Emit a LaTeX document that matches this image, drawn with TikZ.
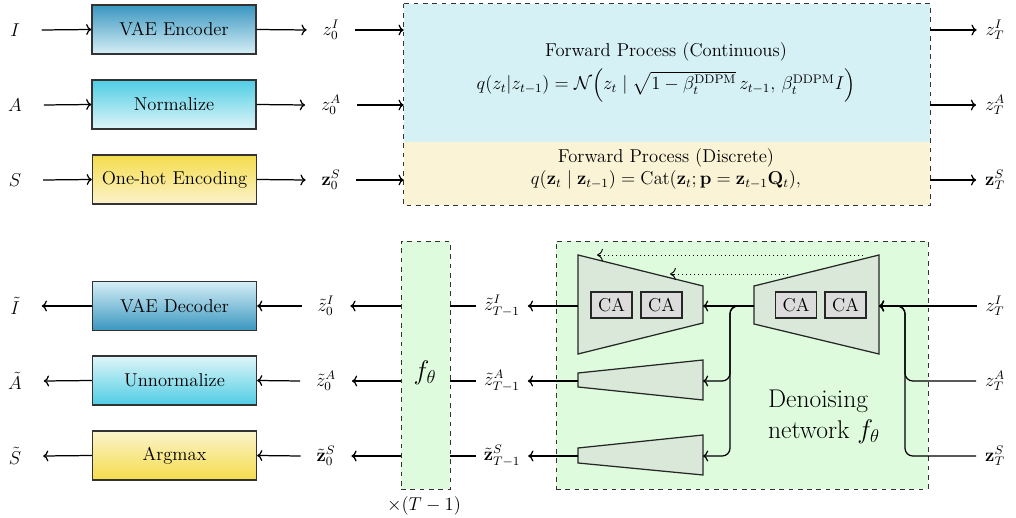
\documentclass[tikz,border=0pt]{standalone}
\usepackage{amsmath,amssymb}
\usetikzlibrary{arrows.meta,calc}
\definecolor{encTop}{HTML}{3A96C0}
\definecolor{encBot}{HTML}{D6EFF6}
\definecolor{normTop}{HTML}{4FCDE4}
\definecolor{normBot}{HTML}{DFF5F9}
\definecolor{oneTop}{HTML}{F5DC4C}
\definecolor{oneBot}{HTML}{FBF3CC}
\definecolor{fwdBlue}{HTML}{D5F1F6}
\definecolor{fwdYel}{HTML}{FBF3D6}
\definecolor{netGreen}{HTML}{DEFCDD}
\definecolor{trapFill}{HTML}{D9E8D9}
\definecolor{caFill}{HTML}{DCDCDC}
\definecolor{edge}{HTML}{333333}
\tikzset{
  procbox/.style={draw=edge, line width=0.8pt, minimum width=164*0.645pt, minimum height=49*0.645pt, inner sep=3pt, font=\large},
  lbl/.style={inner sep=0pt, outer xsep=#1*0.645pt, font=\large},
  conn/.style={line width=0.8pt, ->},
  plain/.style={line width=0.8pt},
  dbox/.style={draw=black!80, dashed, line width=0.6pt},
  trap/.style={draw=black!85, fill=trapFill, line width=0.8pt},
  cabox/.style={draw=black!85, fill=caFill, line width=0.8pt, minimum width=41*0.645pt, minimum height=26*0.645pt, inner sep=0pt, font=\large},
  skip/.style={dotted, line width=0.6pt},
  skiptip/.style={line width=0.6pt, -{To[scale=1.3]}},
}
\begin{document}
\begin{tikzpicture}[x=0.645pt,y=-0.645pt]
\useasboundingbox (0,0) rectangle (1016,518);

% ---------- top: forward ----------
\node[lbl=22] (I) at (15,30) {$I$};
\node[lbl=22] (A) at (15,105) {$A$};
\node[lbl=22] (S) at (15,180) {$S$};
\node[procbox, top color=encTop, bottom color=encBot] (enc) at (174,29.5) {VAE Encoder};
\node[procbox, top color=normTop, bottom color=normBot] (norm) at (174,104.5) {Normalize};
\node[procbox, top color=oneTop, bottom color=oneBot] (onehot) at (174.5,179.5) {One-hot Encoding};
\node[lbl=16] (z0I) at (331,30) {$z_0^I$};
\node[lbl=16] (z0A) at (331,105) {$z_0^A$};
\node[lbl=16] (z0S) at (331,180) {$\mathbf{z}_0^S$};

\node[fill=fwdBlue, minimum width=526*0.645pt, minimum height=138*0.645pt, inner sep=0pt] (fwdC) at (667,73) {};
\node[fill=fwdYel, minimum width=526*0.645pt, minimum height=63*0.645pt, inner sep=0pt] (fwdD) at (667,173.5) {};
\draw[dbox] (fwdC.north west) rectangle (fwdD.south east);
\node[align=center, font=\large] (fwdCt) at (666,72) {Forward Process (Continuous)\\[4pt]
  $q(z_t|z_{t-1}) = \mathcal{N}\!\left(z_t \mid \sqrt{1-\beta_t^{\mathrm{DDPM}}}\, z_{t-1},\, \beta_t^{\mathrm{DDPM}} I\right)$};
\node[align=center, font=\large] (fwdDt) at (666,169) {Forward Process (Discrete)\\
  $q(\mathbf{z}_t \mid \mathbf{z}_{t-1}) = \mathrm{Cat}(\mathbf{z}_t; \mathbf{p} = \mathbf{z}_{t-1}\mathbf{Q}_t),$};

\node[lbl=9] (zTI) at (995,30) {$z_T^I$};
\node[lbl=9] (zTA) at (995,105) {$z_T^A$};
\node[lbl=9] (zTS) at (995,180) {$\mathbf{z}_T^S$};

\draw[conn] (I.east) -- (enc.west);
\draw[conn] (A.east) -- (norm.west);
\draw[conn] (S.east) -- (onehot.west);
\draw[conn] (enc.east) -- (z0I.west);
\draw[conn] (norm.east) -- (z0A.west);
\draw[conn] (onehot.east) -- (z0S.west);
\draw[conn] (z0I.east) -- (fwdC.west |- z0I);
\draw[conn] (z0A.east) -- (fwdC.west |- z0A);
\draw[conn] (z0S.east) -- (fwdD.west |- z0S);
\draw[conn] (fwdC.east |- zTI) -- (zTI.west);
\draw[conn] (fwdC.east |- zTA) -- (zTA.west);
\draw[conn] (fwdD.east |- zTS) -- (zTS.west);

% ---------- bottom: reverse ----------
\node[lbl=22] (It) at (15,306) {$\tilde{I}$};
\node[lbl=22] (At) at (15,381) {$\tilde{A}$};
\node[lbl=22] (St) at (15,456) {$\tilde{S}$};
\node[procbox, top color=encBot, bottom color=encTop] (dec) at (174.5,306) {VAE Decoder};
\node[procbox, top color=normBot, bottom color=normTop] (unnorm) at (174.5,380.5) {Unnormalize};
\node[procbox, top color=oneBot, bottom color=oneTop] (argmax) at (174.5,455.5) {Argmax};
\node[lbl=16] (zt0I) at (326,306) {$\tilde{z}_0^I$};
\node[lbl=16] (zt0A) at (326,381) {$\tilde{z}_0^A$};
\node[lbl=16] (zt0S) at (326,456) {$\tilde{\mathbf{z}}_0^S$};

\node[dbox, fill=netGreen, minimum width=49*0.645pt, minimum height=248*0.645pt, inner sep=0pt] (fbox) at (425.5,365) {};
\node[font=\LARGE] (ftheta) at (425,373) {$f_\theta$};
\node[font=\large] (times) at (424,506) {$\times(T-1)$};

\node[lbl=8] (ztTI) at (502,306) {$\tilde{z}_{T-1}^I$};
\node[lbl=8] (ztTA) at (502,381) {$\tilde{z}_{T-1}^A$};
\node[lbl=8] (ztTS) at (502,456) {$\tilde{\mathbf{z}}_{T-1}^S$};

\node[dbox, fill=netGreen, minimum width=372*0.645pt, minimum height=248*0.645pt, inner sep=0pt] (net) at (742,365) {};

% trapezoids
\draw[trap] (578,255) -- (703,286) -- (703,323) -- (578,354) -- cycle;
\draw[trap] (754,286) -- (879,255) -- (879,354) -- (754,324) -- cycle;
\draw[trap] (578,373) -- (703,360) -- (703,400) -- (578,387) -- cycle;
\draw[trap] (578,448) -- (703,435) -- (703,475) -- (578,463) -- cycle;
\coordinate (dL) at (578,306);
\coordinate (dR) at (703,306);
\coordinate (eL) at (754,306);
\coordinate (eR) at (879,306);
\coordinate (aL) at (578,381);
\coordinate (aR) at (703,381);
\coordinate (sL) at (578,456);
\coordinate (sR) at (703,456);
\coordinate (skA1) at (863,255);
\coordinate (skA2) at (597,255);
\coordinate (skA3) at (601,255);
\coordinate (skB1) at (788,274);
\coordinate (skB2) at (670,274);
\coordinate (skB3) at (674,274);

\node[cabox] (ca1) at (611.5,305) {CA};
\node[cabox] (ca2) at (661.5,305) {CA};
\node[cabox] (ca3) at (796,305) {CA};
\node[cabox] (ca4) at (845.5,305) {CA};

\node[font=\fontsize{16.5}{20}\selectfont, align=left] (dn) at (824,417) {Denoising\\network $f_\theta$};

\node[lbl=9] (zTIb) at (995,306) {$z_T^I$};
\node[lbl=9] (zTAb) at (995,381) {$z_T^A$};
\node[lbl=9] (zTSb) at (995,456) {$\mathbf{z}_T^S$};

% connectors bottom
\draw[conn] (dec.west) -- (It.east);
\draw[conn] (unnorm.west) -- (At.east);
\draw[conn] (argmax.west) -- (St.east);
\draw[conn] (zt0I.west) -- (dec.east);
\draw[conn] (zt0A.west) -- (unnorm.east);
\draw[conn] (zt0S.west) -- (argmax.east);
\draw[conn] (fbox.west |- zt0I) -- (zt0I.east);
\draw[conn] (fbox.west |- zt0A) -- (zt0A.east);
\draw[conn] (fbox.west |- zt0S) -- (zt0S.east);
\draw[plain] (ztTI.west) -- (fbox.east |- ztTI);
\draw[plain] (ztTA.west) -- (fbox.east |- ztTA);
\draw[plain] (ztTS.west) -- (fbox.east |- ztTS);
\draw[conn] (dL) -- (ztTI.east);
\draw[conn] (aL) -- (ztTA.east);
\draw[conn] (sL) -- (ztTS.east);

\draw[conn] (zTIb.west) -- (eR);
\draw[conn, rounded corners=5pt] (zTAb.west) -- (905,381) -- (905,306) -- (eR);
\draw[conn, rounded corners=5pt] (zTSb.west) -- (905,456) -- (905,306) -- (eR);
\draw[conn] (eL) -- (dR);
\draw[conn, rounded corners=5pt] (eL) -- (730,306) -- (730,381) -- (aR);
\draw[conn, rounded corners=5pt] (eL) -- (730,306) -- (730,456) -- (sR);

\draw[skip] (skA1) -- (skA3);
\draw[skiptip] (skA3) -- (skA2);
\draw[skip] (skB1) -- (skB3);
\draw[skiptip] (skB3) -- (skB2);
\end{tikzpicture}
\end{document}
